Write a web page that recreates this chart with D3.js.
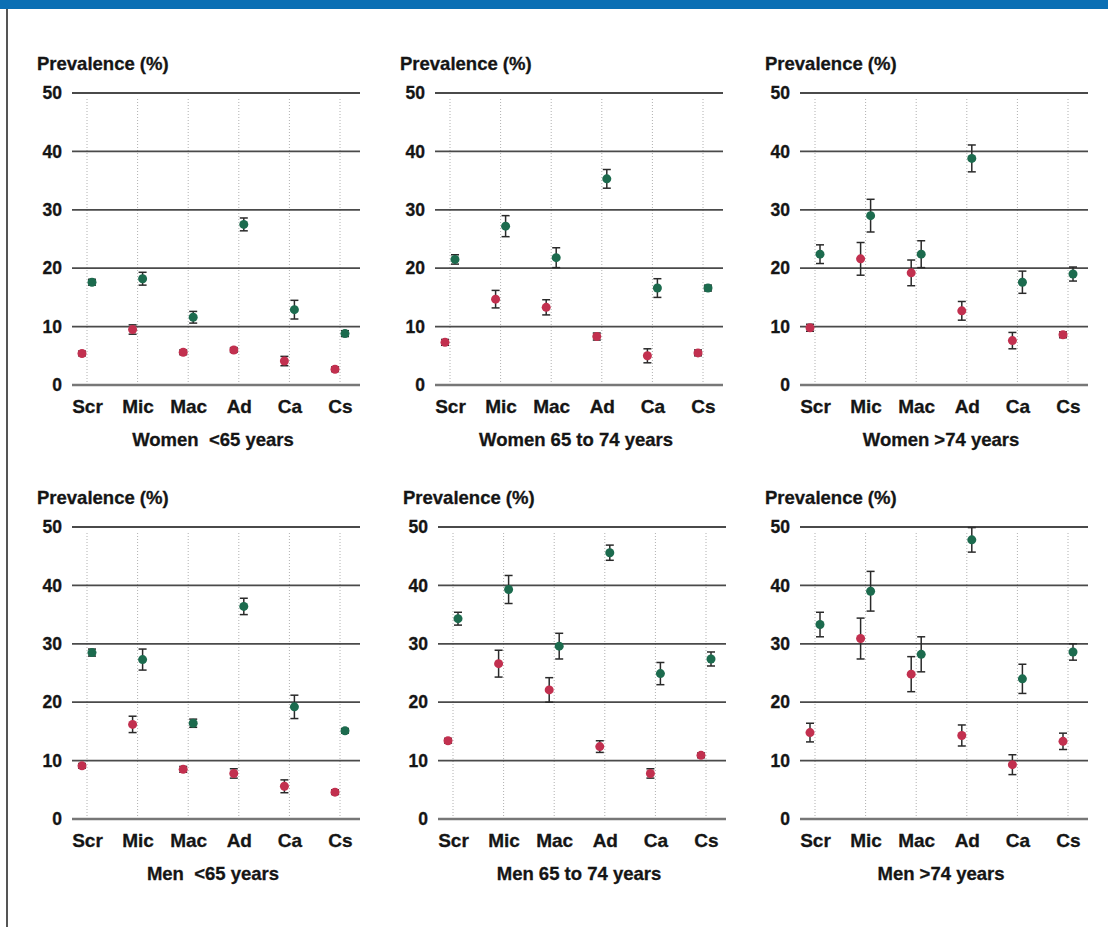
<!DOCTYPE html>
<html>
<head>
<meta charset="utf-8">
<script src="https://cdn.jsdelivr.net/npm/d3@7/dist/d3.min.js"></script>
<style>
  html, body { margin: 0; padding: 0; background: #fff; }
  svg { display: block; }
  text { font-family: "Liberation Sans", Arial, Helvetica, sans-serif; font-weight: bold; fill: #151515; }
</style>
</head>
<body>
<svg id="chart" width="1108" height="927"></svg>
<script>
// ---------- data ----------
const categories = ["Scr", "Mic", "Mac", "Ad", "Ca", "Cs"];
const yTicks = [0, 10, 20, 30, 40, 50];
const yLabel = "Prevalence (%)";
const panelTitles = ["Women  <65 years", "Women 65 to 74 years", "Women >74 years",
                     "Men  <65 years", "Men 65 to 74 years", "Men >74 years"];

// red (lower) series and its error half-widths, per panel
const redWomenU65   = [5.4, 9.5, 5.6, 6.0, 4.1, 2.7];
const redErrWomenU65 = [0.4, 0.8, 0.4, 0.4, 0.8, 0.4];
const redWomen6574  = [7.3, 14.7, 13.3, 8.3, 5.0, 5.5];
const redErrWomen6574 = [0.5, 1.5, 1.3, 0.6, 1.2, 0.5];
const redWomenO74   = [9.8, 21.6, 19.2, 12.7, 7.6, 8.6];
const redErrWomenO74 = [0.6, 2.8, 2.2, 1.6, 1.4, 0.5];
const redMenU65     = [9.1, 16.2, 8.5, 7.8, 5.6, 4.6];
const redErrMenU65  = [0.4, 1.4, 0.5, 0.8, 1.1, 0.4];
const redMen6574    = [13.4, 26.6, 22.1, 12.4, 7.8, 10.9];
const redErrMen6574 = [0.4, 2.3, 2.1, 1.0, 0.8, 0.4];
const redMenO74     = [14.8, 30.9, 24.8, 14.3, 9.3, 13.3];
const redErrMenO74  = [1.6, 3.5, 3.0, 1.8, 1.7, 1.4];

// green (upper) series and its error half-widths, per panel
const greenWomenU65   = [17.6, 18.2, 11.6, 27.5, 12.9, 8.8];
const greenErrWomenU65 = [0.5, 1.1, 1.0, 1.1, 1.6, 0.5];
const greenWomen6574  = [21.5, 27.2, 21.8, 35.3, 16.6, 16.6];
const greenErrWomen6574 = [0.8, 1.8, 1.7, 1.6, 1.6, 0.5];
const greenWomenO74   = [22.4, 29.0, 22.4, 38.8, 17.6, 19.0];
const greenErrWomenO74 = [1.6, 2.8, 2.3, 2.3, 1.9, 1.2];
const greenMenU65     = [28.5, 27.3, 16.4, 36.4, 19.2, 15.1];
const greenErrMenU65  = [0.6, 1.8, 0.7, 1.4, 2.0, 0.4];
const greenMen6574    = [34.3, 39.3, 29.6, 45.6, 24.9, 27.4];
const greenErrMen6574 = [1.1, 2.4, 2.2, 1.3, 1.9, 1.2];
const greenMenO74     = [33.3, 39.0, 28.2, 47.8, 24.0, 28.6];
const greenErrMenO74  = [2.1, 3.4, 3.0, 2.1, 2.5, 1.4];

// ---------- layout ----------
const panels = [
  { title: panelTitles[0], red: redWomenU65, redErr: redErrWomenU65, green: greenWomenU65, greenErr: greenErrWomenU65, left: 72,  top: 93 },
  { title: panelTitles[1], red: redWomen6574, redErr: redErrWomen6574, green: greenWomen6574, greenErr: greenErrWomen6574, left: 435, top: 93 },
  { title: panelTitles[2], red: redWomenO74, redErr: redErrWomenO74, green: greenWomenO74, greenErr: greenErrWomenO74, left: 800, top: 93 },
  { title: panelTitles[3], red: redMenU65, redErr: redErrMenU65, green: greenMenU65, greenErr: greenErrMenU65, left: 72,  top: 527 },
  { title: panelTitles[4], red: redMen6574, redErr: redErrMen6574, green: greenMen6574, greenErr: greenErrMen6574, left: 438, top: 527 },
  { title: panelTitles[5], red: redMenO74, redErr: redErrMenO74, green: greenMenO74, greenErr: greenErrMenO74, left: 800, top: 527 }
];
const plotW = 288, plotH = 292;
const redColor = "#c2304f", greenColor = "#1c6b4e", barColor = "#2a2a2a";
const offset = 5;

const svg = d3.select("#chart");

// top blue band and left border
svg.append("rect").attr("x", 0).attr("y", 0).attr("width", 1108).attr("height", 9).attr("fill", "#0b6fb4");
svg.append("rect").attr("x", 6).attr("y", 9).attr("width", 2).attr("height", 918).attr("fill", "#555");

panels.forEach(p => {
  const g = svg.append("g").attr("transform", `translate(${p.left},${p.top})`);
  const y = d3.scaleLinear().domain([0, 50]).range([plotH, 0]);
  const x = d3.scalePoint().domain(categories).range([15, 268]);

  // vertical dotted guides
  g.append("g").selectAll("line").data(categories).join("line")
    .attr("x1", d => x(d)).attr("x2", d => x(d))
    .attr("y1", y(50) + 6).attr("y2", y(0))
    .attr("stroke", "#b0b0b0").attr("stroke-width", 1).attr("stroke-dasharray", "1,2");

  // horizontal gridlines
  g.append("g").selectAll("line").data(yTicks).join("line")
    .attr("x1", 0).attr("x2", plotW)
    .attr("y1", d => y(d)).attr("y2", d => y(d))
    .attr("stroke", d => d === 0 ? "#777" : "#4a4a4a").attr("stroke-width", d => d === 0 ? 2.4 : 1.8);

  // y axis labels
  const yAxis = d3.axisLeft(y).tickValues(yTicks).tickSize(0).tickPadding(10);
  const ya = g.append("g").call(yAxis);
  ya.select(".domain").remove();
  ya.selectAll("text").attr("font-size", 17.5).attr("font-family", null).attr("fill", "#151515")
    .attr("stroke", "#151515").attr("stroke-width", 0.3);

  // x axis labels
  const xAxis = d3.axisBottom(x).tickSize(0).tickPadding(15);
  const xa = g.append("g").attr("transform", `translate(0,${plotH})`).call(xAxis);
  xa.select(".domain").remove();
  xa.selectAll("text").attr("font-size", 19).attr("font-family", null).attr("fill", "#151515")
    .attr("stroke", "#151515").attr("stroke-width", 0.3);

  // y label
  g.append("text").attr("x", -35).attr("y", -23).attr("font-size", 18.5)
    .attr("stroke", "#151515").attr("stroke-width", 0.3).text(yLabel);

  // panel title
  g.append("text").attr("x", 141).attr("y", plotH + 61).attr("text-anchor", "middle")
    .attr("font-size", 18.5).attr("stroke", "#151515").attr("stroke-width", 0.3)
    .style("white-space", "pre").text(p.title);

  const series = [
    { vals: p.red, errs: p.redErr, color: redColor, dx: -offset },
    { vals: p.green, errs: p.greenErr, color: greenColor, dx: offset }
  ];
  series.forEach(s => {
    const data = categories.map((c, i) => ({ c, v: s.vals[i], e: s.errs[i] }));
    const eg = g.append("g");
    eg.selectAll("line.err").data(data).join("line").attr("class", "err")
      .attr("x1", d => x(d.c) + s.dx).attr("x2", d => x(d.c) + s.dx)
      .attr("y1", d => y(d.v - d.e)).attr("y2", d => y(d.v + d.e))
      .attr("stroke", barColor).attr("stroke-width", 1.5);
    eg.selectAll("line.capt").data(data).join("line").attr("class", "capt")
      .attr("x1", d => x(d.c) + s.dx - 4).attr("x2", d => x(d.c) + s.dx + 4)
      .attr("y1", d => y(d.v + d.e)).attr("y2", d => y(d.v + d.e))
      .attr("stroke", barColor).attr("stroke-width", 1.5);
    eg.selectAll("line.capb").data(data).join("line").attr("class", "capb")
      .attr("x1", d => x(d.c) + s.dx - 4).attr("x2", d => x(d.c) + s.dx + 4)
      .attr("y1", d => y(d.v - d.e)).attr("y2", d => y(d.v - d.e))
      .attr("stroke", barColor).attr("stroke-width", 1.5);
    eg.selectAll("circle").data(data).join("circle")
      .attr("cx", d => x(d.c) + s.dx).attr("cy", d => y(d.v)).attr("r", 4.5)
      .attr("fill", s.color);
  });
});
</script>
</body>
</html>
